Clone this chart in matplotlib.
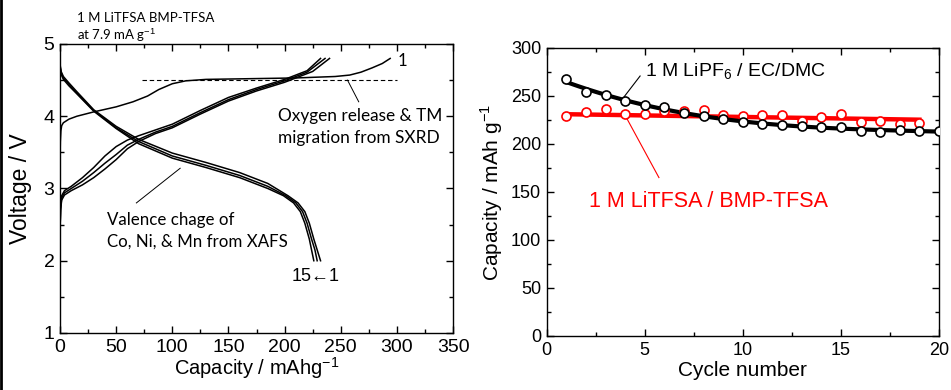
import numpy as np
import matplotlib
matplotlib.use("Agg")
import matplotlib.pyplot as plt
from matplotlib.lines import Line2D
from matplotlib.ticker import MultipleLocator

plt.rcParams['font.family'] = ['Liberation Sans', 'DejaVu Sans']
plt.rcParams['mathtext.fontset'] = 'custom'
plt.rcParams['mathtext.rm'] = 'Liberation Sans'

# ---- left panel: charge / discharge curves ----
# first charge (cycle 1)
charge1_cap = [0, 0.3, 0.8, 1.5, 3, 8, 15, 30, 50, 65, 78, 88, 100, 112, 130, 170, 210, 245, 258, 268, 278, 287, 294]
charge1_v = [3.40, 3.65, 3.80, 3.87, 3.91, 3.96, 4.00, 4.06, 4.13, 4.20, 4.28, 4.37, 4.45, 4.49, 4.51, 4.52, 4.53, 4.55, 4.57, 4.61, 4.67, 4.73, 4.80]

# later charges (cycles 2, 5, 15)
charge_cap = [
    [0, 0.5, 1.5, 4, 10, 20, 30, 40, 50, 60, 70, 85, 100, 125, 150, 175, 200, 220, 232],
    [0, 0.5, 1.5, 4, 10, 20, 30, 40, 50, 60, 70, 85, 100, 125, 150, 175, 200, 220, 236],
    [0, 0.5, 1.5, 4, 10, 20, 30, 40, 50, 60, 70, 85, 100, 125, 150, 175, 200, 225, 240],
]
charge_v = [
    [2.40, 2.75, 2.90, 2.97, 3.03, 3.15, 3.29, 3.45, 3.58, 3.67, 3.73, 3.81, 3.89, 4.08, 4.26, 4.39, 4.51, 4.63, 4.80],
    [2.40, 2.72, 2.87, 2.94, 3.00, 3.10, 3.22, 3.35, 3.47, 3.60, 3.68, 3.78, 3.86, 4.05, 4.23, 4.37, 4.49, 4.61, 4.80],
    [2.40, 2.70, 2.84, 2.91, 2.97, 3.05, 3.15, 3.27, 3.40, 3.55, 3.65, 3.76, 3.84, 4.03, 4.21, 4.35, 4.47, 4.62, 4.80],
]

# discharges (cycles 1, 5, 15)
discharge_cap = [
    [0, 1, 3, 8, 15, 30, 50, 70, 100, 130, 160, 185, 203, 212, 218, 222, 226, 229, 232],
    [0, 1, 3, 8, 15, 30, 50, 70, 100, 130, 160, 185, 201, 210, 216, 220, 224, 227, 229],
    [0, 1, 3, 8, 15, 30, 50, 70, 100, 130, 160, 185, 199, 208, 214, 218, 222, 224, 226],
]
discharge_v = [
    [4.72, 4.62, 4.55, 4.46, 4.34, 4.09, 3.86, 3.68, 3.49, 3.36, 3.22, 3.07, 2.90, 2.80, 2.68, 2.52, 2.30, 2.15, 2.00],
    [4.70, 4.60, 4.53, 4.44, 4.32, 4.08, 3.84, 3.65, 3.45, 3.32, 3.18, 3.03, 2.90, 2.80, 2.68, 2.52, 2.30, 2.15, 2.00],
    [4.68, 4.58, 4.51, 4.42, 4.31, 4.07, 3.83, 3.62, 3.42, 3.29, 3.15, 3.00, 2.90, 2.80, 2.68, 2.52, 2.30, 2.15, 2.00],
]

plateau_v = 4.5
plateau_cap = [73, 300]

# ---- right panel: cycle performance ----
cycles = list(range(1, 21))
cap_lipf6 = [267.4, 253.8, 251.0, 245.1, 240.6, 238.2, 232.0, 229.2, 225.7, 223.0,
             220.8, 219.8, 219.1, 217.7, 217.7, 213.2, 212.5, 214.6, 213.9, 213.2]
cycles_il = list(range(1, 20))
cap_litfsa = [229.2, 233.0, 236.5, 231.0, 231.2, 234.0, 234.0, 235.4, 230.2, 228.8,
              229.9, 230.6, 224.3, 228.5, 231.6, 222.6, 223.6, 221.2, 221.5]
# trend line drawn for the ionic-liquid cell (start / end values)
trend_il_cycles = [1, 19]
trend_il_cap = [231.0, 225.3]

fig = plt.figure(figsize=(9.51, 3.9), dpi=100)
fig.add_artist(Line2D([0.001, 0.001], [0, 1], color='black', lw=2, transform=fig.transFigure))

ax1 = fig.add_axes([0.0631, 0.1462, 0.4133, 0.741])
ax2 = fig.add_axes([0.5749, 0.1385, 0.4125, 0.7385])

lw = 1.1
ax1.plot(charge1_cap, charge1_v, color='black', lw=lw)
for c, v in zip(charge_cap, charge_v):
    ax1.plot(c, v, color='black', lw=lw)
for c, v in zip(discharge_cap, discharge_v):
    ax1.plot(c, v, color='black', lw=lw)
ax1.plot(plateau_cap, [plateau_v, plateau_v], 'k--', lw=0.8, dashes=(4, 2.5))

calfont = ['Lato', 'DejaVu Sans']
ax1.plot([256, 266], [4.5, 4.2], color='black', lw=0.7)
ax1.text(194, 3.85, "Oxygen release & TM\nmigration from SXRD", fontsize=12.4, family=calfont,
         linespacing=1.45, va='center', ha='left')
ax1.plot([107, 68], [3.28, 2.8], color='black', lw=0.7)
ax1.text(42, 2.41, "Valence chage of\nCo, Ni, & Mn from XAFS", fontsize=12.2, family=calfont,
         linespacing=1.45, va='center', ha='left')
ax1.text(301, 4.77, "1", fontsize=12, family=calfont, va='center', ha='left')
ax1.text(206, 1.78, "15\u21901", fontsize=13, va='center', ha='left')
fig.text(0.081, 0.955, "1 M LiTFSA BMP-TFSA", fontsize=9.5, family=calfont, va='center')
fig.text(0.081, 0.91, "at 7.9 mA g$^{-1}$", fontsize=9.5, family=calfont, va='center')

ax1.set_xlim(0, 350)
ax1.set_ylim(1, 5)
ax1.xaxis.set_major_locator(MultipleLocator(50))
ax1.xaxis.set_minor_locator(MultipleLocator(25))
ax1.yaxis.set_major_locator(MultipleLocator(1))
ax1.yaxis.set_minor_locator(MultipleLocator(0.5))
ax1.set_xlabel("Capacity / mAhg$^{-1}$", fontsize=14.5, labelpad=0)
ax1.set_ylabel("Voltage / V", fontsize=16.5, labelpad=8)

# right panel
fit_b = np.polyfit(cycles, cap_lipf6, 3)
xb = np.linspace(cycles[0], cycles[-1], 100)
ax2.plot(trend_il_cycles, trend_il_cap, color='#ff0000', lw=3.2, zorder=2)
ax2.plot(xb, np.polyval(fit_b, xb), color='black', lw=3, zorder=2)
ax2.plot(cycles_il, cap_litfsa, 'o', mfc='white', mec='#ff0000', mew=1.2, ms=6.5, zorder=3)
ax2.plot(cycles, cap_lipf6, 'o', mfc='white', mec='black', mew=1.2, ms=6.5, zorder=4)

ax2.plot([4.76, 3.94], [270.8, 249], color='black', lw=0.8)
ax2.text(5.0, 275, "1 M LiPF$_6$ / EC/DMC", fontsize=14, va='center', ha='left')
ax2.plot([4.08, 5.72], [226.7, 165], color='#ff0000', lw=0.8)
ax2.text(2.16, 140, "1 M LiTFSA / BMP-TFSA", fontsize=15.5, color='#ff0000', va='center', ha='left')

ax2.set_xlim(0, 20)
ax2.set_ylim(0, 300)
ax2.xaxis.set_major_locator(MultipleLocator(5))
ax2.xaxis.set_minor_locator(MultipleLocator(2.5))
ax2.yaxis.set_major_locator(MultipleLocator(50))
ax2.yaxis.set_minor_locator(MultipleLocator(25))
ax2.set_xlabel("Cycle number", fontsize=15, labelpad=2)
ax2.set_ylabel("Capacity / mAh g$^{-1}$", fontsize=15, labelpad=4)

for ax, ls in ((ax1, 14), (ax2, 13)):
    ax.tick_params(which='both', direction='in', top=True, right=True, labelsize=ls, width=1)
    ax.tick_params(which='major', length=5, pad=4)
    ax.tick_params(which='minor', length=3)
    for s in ax.spines.values():
        s.set_linewidth(1)

fig.savefig("out.png", dpi=100)
